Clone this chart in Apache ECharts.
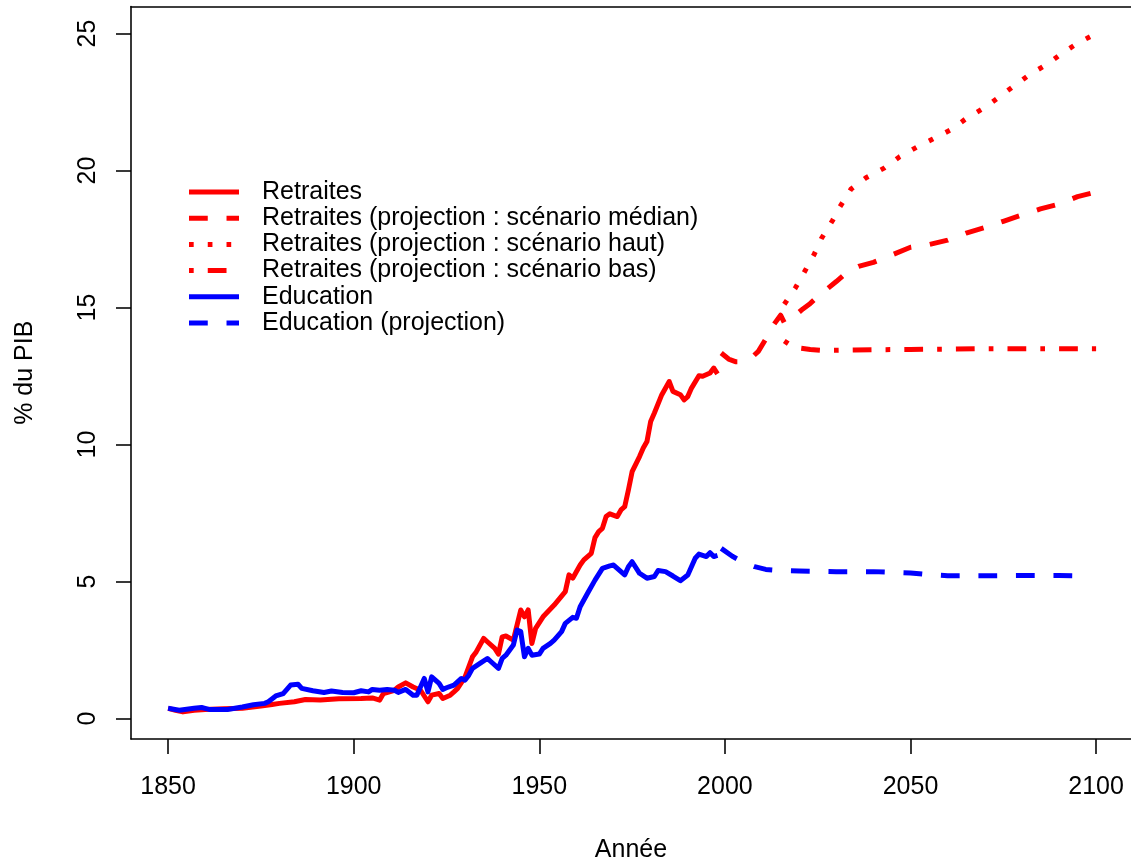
<!DOCTYPE html>
<html><head><meta charset="utf-8">
<script src="https://cdn.jsdelivr.net/npm/echarts@6/dist/echarts.min.js"></script>
<style>html,body{margin:0;padding:0;background:#fff;overflow:hidden}#c{width:1131px;height:863px}</style>
</head><body><div id="c"></div>
<script>
const xTicks = [1850, 1900, 1950, 2000, 2050, 2100];
const yTicks = [0, 5, 10, 15, 20, 25];
const seriesNames = [
  'Retraites',
  'Retraites (projection : scénario médian)',
  'Retraites (projection : scénario haut)',
  'Retraites (projection : scénario bas)',
  'Education',
  'Education (projection)'
];

const retHistYears = [1850,1852,1854,1857,1860,1865,1870,1875,1878,1880,1884,1887,1891,1896,1902,1905,1907,1908,1911,1912,1914,1916,1918,1920,1921,1923,1924,1926,1927,1928,1930,1932,1933,1935,1936,1938,1939,1940,1941,1943,1945,1946,1947,1948,1949,1951,1954,1957,1958,1959,1961,1962,1964,1965,1966,1967,1968,1969,1971,1972,1973,1974,1975,1977,1978,1979,1980,1981,1983,1985,1986,1988,1989,1990,1991,1993,1994,1996,1997,1998];
const retHistValues = [0.37,0.30,0.24,0.30,0.33,0.35,0.37,0.45,0.51,0.55,0.61,0.69,0.67,0.72,0.73,0.75,0.67,0.91,1.03,1.15,1.30,1.15,1.03,0.61,0.85,0.91,0.73,0.85,0.97,1.10,1.52,2.25,2.43,2.92,2.80,2.56,2.35,2.98,3.01,2.86,3.96,3.71,3.96,2.74,3.29,3.71,4.14,4.63,5.24,5.12,5.60,5.79,6.03,6.60,6.82,6.94,7.37,7.47,7.37,7.61,7.73,8.34,9.01,9.56,9.87,10.11,10.84,11.15,11.82,12.30,11.94,11.82,11.63,11.75,12.06,12.51,12.49,12.61,12.79,12.58];

const retMedYears = [1999,2001,2003,2005,2007,2009,2011,2013,2015,2016,2017,2019,2021,2023,2025,2027,2030,2033,2036,2040,2045,2050,2055,2060,2065,2070,2075,2080,2085,2090,2095,2100];
const retMedValues = [13.34,13.12,13.02,13.02,13.15,13.40,13.85,14.35,14.72,14.45,14.50,14.72,14.95,15.15,15.40,15.62,15.95,16.30,16.50,16.65,16.92,17.20,17.30,17.46,17.72,17.92,18.15,18.38,18.60,18.78,19.05,19.22];

const retHighYears = [2016,2019,2021,2024,2026,2029,2031,2034,2038,2043,2047,2052,2056,2061,2065,2070,2074,2078,2082,2087,2091,2095,2100];
const retHighValues = [15.12,15.72,16.20,16.93,17.52,18.18,18.68,19.33,19.74,20.10,20.50,20.88,21.15,21.50,21.90,22.30,22.70,23.10,23.50,23.90,24.30,24.65,25.00];

const retLowYears = [2016,2018,2020,2023,2026,2030,2035,2040,2050,2060,2070,2080,2090,2100];
const retLowValues = [13.78,13.60,13.52,13.47,13.44,13.44,13.45,13.46,13.47,13.48,13.50,13.50,13.50,13.50];

const eduHistYears = [1850,1853,1857,1859,1861,1866,1870,1873,1876,1877,1879,1881,1883,1885,1886,1889,1892,1894,1897,1900,1902,1904,1905,1907,1909,1911,1912,1914,1916,1917,1919,1920,1921,1923,1924,1925,1927,1929,1930,1931,1932,1934,1936,1937,1939,1940,1941,1943,1944,1945,1946,1947,1948,1950,1951,1953,1954,1956,1957,1959,1960,1961,1963,1965,1967,1969,1970,1973,1974,1975,1977,1979,1981,1982,1984,1986,1988,1990,1992,1993,1995,1996,1997,1998];
const eduHistValues = [0.37,0.30,0.37,0.40,0.33,0.33,0.42,0.50,0.55,0.61,0.82,0.91,1.22,1.25,1.10,1.01,0.95,1.00,0.95,0.94,1.01,0.97,1.06,1.03,1.06,1.03,0.95,1.06,0.85,0.85,1.46,0.97,1.52,1.28,1.06,1.12,1.22,1.46,1.40,1.58,1.83,2.01,2.19,2.07,1.83,2.19,2.31,2.68,3.23,3.17,2.25,2.56,2.31,2.35,2.56,2.74,2.86,3.17,3.47,3.69,3.66,4.08,4.57,5.05,5.48,5.57,5.60,5.24,5.54,5.72,5.30,5.12,5.18,5.40,5.36,5.20,5.03,5.24,5.85,6.00,5.91,6.05,5.91,5.95];

const eduProjYears = [1999,2002,2005,2008,2011,2015,2020,2030,2040,2050,2055,2060,2070,2080,2090,2095];
const eduProjValues = [6.21,5.92,5.70,5.54,5.44,5.40,5.38,5.36,5.36,5.31,5.25,5.21,5.21,5.22,5.22,5.21];

const LW = 4.69;
const LINE_W = 5;
const FONT = 'Liberation Sans, Arial, Helvetica, sans-serif';
function zip(xs, ys) { return xs.map((x, i) => [x, ys[i]]); }

const defs = [
  {name: seriesNames[0], color: '#FF0000', dash: 'solid', data: zip(retHistYears, retHistValues)},
  {name: seriesNames[1], color: '#FF0000', dash: [4*LW, 4*LW], data: zip(retMedYears, retMedValues)},
  {name: seriesNames[2], color: '#FF0000', dash: [LW, 3*LW], data: zip(retHighYears, retHighValues)},
  {name: seriesNames[3], color: '#FF0000', dash: [LW, 3*LW, 4*LW, 3*LW], data: zip(retLowYears, retLowValues)},
  {name: seriesNames[4], color: '#0000FF', dash: 'solid', data: zip(eduHistYears, eduHistValues)},
  {name: seriesNames[5], color: '#0000FF', dash: [4*LW, 4*LW], data: zip(eduProjYears, eduProjValues)}
];

const axisLineStyle = {color: '#000', width: 1.56};
const chart = echarts.init(document.getElementById('c'), null, {renderer: 'canvas'});
chart.setOption({
  animation: false,
  backgroundColor: '#ffffff',
  textStyle: {fontFamily: FONT},
  grid: {left: 131, top: 6.5, width: 1000, height: 732.5, show: false, containLabel: false, outerBoundsMode: 'none'},
  legend: {
    orient: 'vertical', left: 186.5, top: 179.5, padding: 0, itemGap: 1.2,
    itemWidth: 50, itemHeight: 20, selectedMode: false,
    data: seriesNames,
    itemStyle: {opacity: 0},
    lineStyle: {width: LINE_W},
    textStyle: {fontSize: 25, color: '#000', fontFamily: FONT, lineHeight: 25, padding: [0, 0, 0, 18]}
  },
  xAxis: [{
    type: 'value', min: 1840, max: 2109.4,
    splitLine: {show: false},
    axisLine: {show: true, onZero: false, lineStyle: axisLineStyle},
    axisTick: {show: true, customValues: xTicks, length: 15, inside: false, lineStyle: axisLineStyle},
    axisLabel: {customValues: xTicks, fontSize: 25, color: '#000', fontFamily: FONT, margin: 36,
      formatter: v => String(v)},
    name: 'Année', nameLocation: 'middle', nameGap: 99,
    nameTextStyle: {fontSize: 25, color: '#000', fontFamily: FONT}
  }, {
    type: 'value', position: 'top', min: 1840, max: 2109.4,
    splitLine: {show: false},
    axisLine: {show: true, onZero: false, lineStyle: axisLineStyle},
    axisTick: {show: false}, axisLabel: {show: false}
  }],
  yAxis: {
    type: 'value', min: -0.75, max: 25.99,
    splitLine: {show: false},
    axisLine: {show: true, onZero: false, lineStyle: axisLineStyle},
    axisTick: {show: true, customValues: yTicks, length: 15, inside: false, lineStyle: axisLineStyle},
    axisLabel: {customValues: yTicks, fontSize: 25, color: '#000', fontFamily: FONT, margin: 30, rotate: 90,
      formatter: v => String(v)},
    name: '% du PIB', nameLocation: 'middle', nameGap: 93, nameRotate: 90,
    nameTextStyle: {fontSize: 25, color: '#000', fontFamily: FONT}
  },
  series: defs.map(d => ({
    name: d.name, type: 'line', data: d.data, xAxisIndex: 0,
    symbol: 'none', showSymbol: false, smooth: false, clip: true,
    color: d.color,
    lineStyle: {color: d.color, width: LINE_W, type: d.dash, cap: 'butt', join: 'round'},
    emphasis: {disabled: true}
  }))
});
</script></body></html>
